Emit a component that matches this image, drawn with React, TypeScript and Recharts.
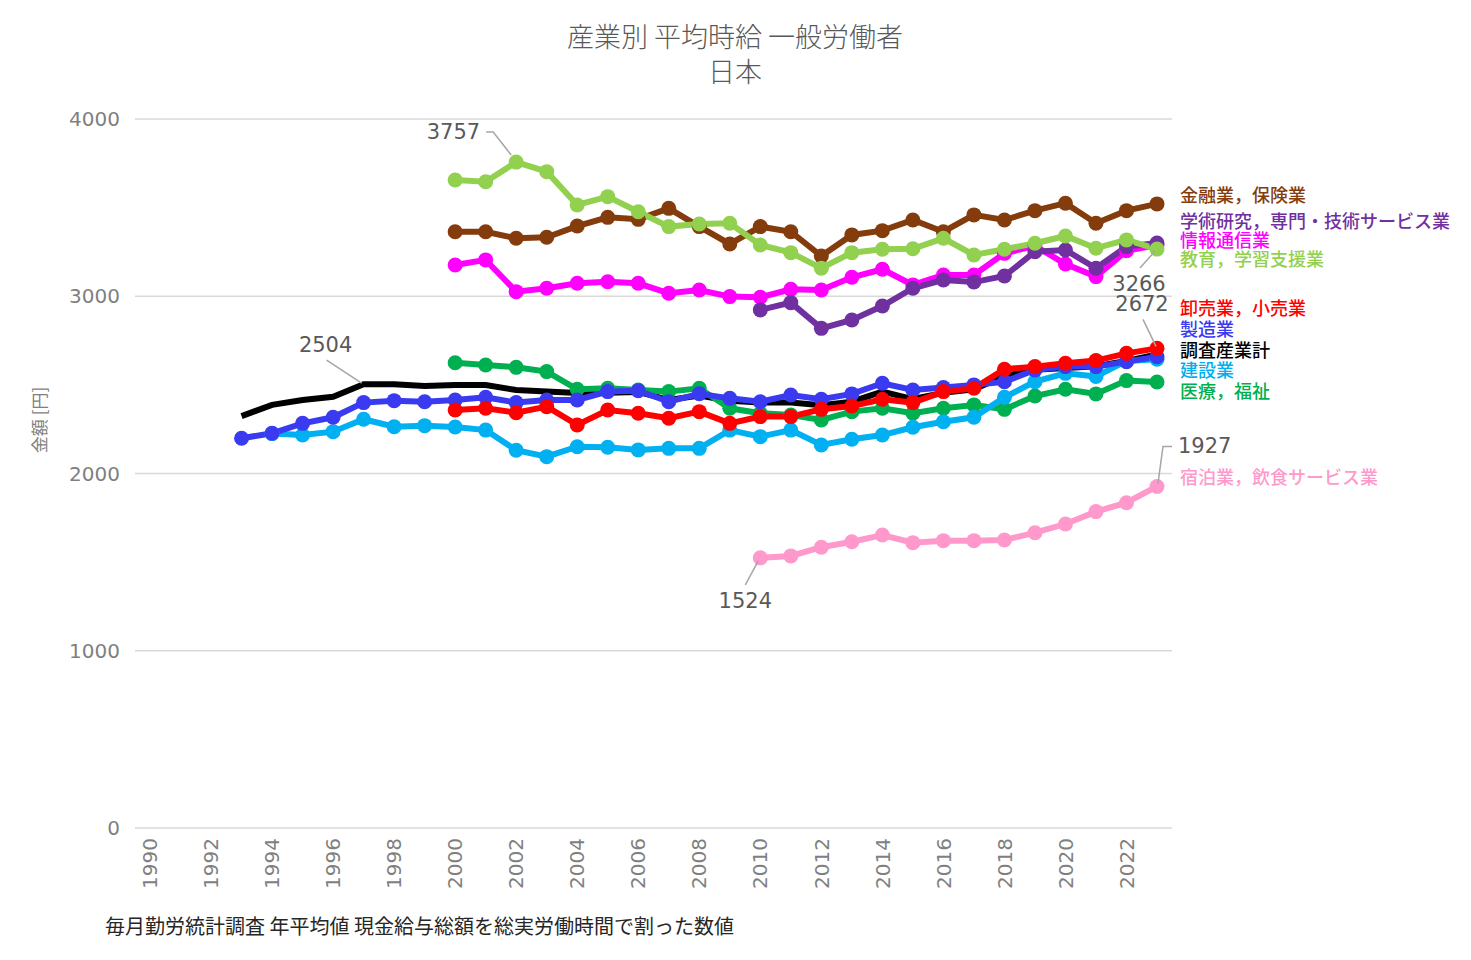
import { CartesianGrid, Line, LineChart, XAxis, YAxis } from 'recharts';

const years = [
  1990, 1991, 1992, 1993, 1994, 1995, 1996, 1997, 1998, 1999,
  2000, 2001, 2002, 2003, 2004, 2005, 2006, 2007, 2008, 2009,
  2010, 2011, 2012, 2013, 2014, 2015, 2016, 2017, 2018, 2019,
  2020, 2021, 2022, 2023,
];

// 調査産業計
const total = [
  null, null, null, 2324, 2387, 2415, 2433, 2504, 2504, 2494,
  2499, 2499, 2471, 2462, 2454, 2455, 2460, 2415, 2440, 2410,
  2400, 2400, 2385, 2405, 2462, 2420, 2455, 2475, 2550, 2585,
  2595, 2605, 2635, 2672,
];
// 製造業
const manufacturing = [
  null, null, null, 2199, 2227, 2283, 2317, 2400, 2411, 2405,
  2415, 2430, 2400, 2415, 2415, 2462, 2467, 2405, 2450, 2424,
  2405, 2443, 2419, 2449, 2509, 2471, 2485, 2500, 2518, 2584,
  2603, 2603, 2631, 2659,
];
// 建設業
const construction = [
  null, null, null, null, 2225, 2217, 2236, 2306, 2264, 2270,
  2262, 2245, 2131, 2095, 2151, 2148, 2133, 2142, 2142, 2245,
  2208, 2245, 2161, 2193, 2217, 2261, 2292, 2317, 2430, 2518,
  2565, 2547, 2635, 2645,
];
// 卸売業，小売業
const wholesale = [
  null, null, null, null, null, null, null, null, null, null,
  2358, 2368, 2343, 2377, 2274, 2358, 2340, 2312, 2349, 2283,
  2321, 2321, 2362, 2381, 2419, 2400, 2462, 2481, 2588, 2603,
  2622, 2637, 2678, 2706,
];
// 医療，福祉
const medical = [
  null, null, null, null, null, null, null, null, null, null,
  2625, 2612, 2599, 2575, 2475, 2481, 2471, 2462, 2481, 2368,
  2340, 2330, 2302, 2349, 2368, 2340, 2368, 2387, 2362, 2437,
  2475, 2449, 2524, 2516,
];
// 金融業，保険業
const finance = [
  null, null, null, null, null, null, null, null, null, null,
  3364, 3364, 3327, 3333, 3396, 3445, 3434, 3496, 3393, 3295,
  3393, 3364, 3227, 3346, 3370, 3430, 3364, 3459, 3430, 3483,
  3525, 3412, 3483, 3521,
];
// 教育，学習支援業
const education = [
  null, null, null, null, null, null, null, null, null, null,
  3656, 3646, 3757, 3703, 3515, 3562, 3477, 3393, 3408, 3412,
  3289, 3246, 3158, 3246, 3265, 3268, 3327, 3233, 3265, 3299,
  3340, 3271, 3318, 3266,
];
// 情報通信業
const info = [
  null, null, null, null, null, null, null, null, null, null,
  3176, 3205, 3026, 3045, 3073, 3082, 3073, 3017, 3035, 2998,
  2994, 3039, 3035, 3107, 3152, 3064, 3120, 3120, 3242, 3284,
  3182, 3111, 3257, 3289,
];
// 学術研究，専門・技術サービス業
const academic = [
  null, null, null, null, null, null, null, null, null, null,
  null, null, null, null, null, null, null, null, null, null,
  2923, 2964, 2819, 2866, 2945, 3045, 3092, 3080, 3114, 3251,
  3261, 3158, 3280, 3300,
];
// 宿泊業，飲食サービス業
const hospitality = [
  null, null, null, null, null, null, null, null, null, null,
  null, null, null, null, null, null, null, null, null, null,
  1524, 1535, 1584, 1615, 1653, 1610, 1621, 1621, 1625, 1666,
  1715, 1785, 1835, 1927,
];

const yTicks = [0, 1000, 2000, 3000, 4000];

const seriesNames = [
  '金融業，保険業',
  '学術研究，専門・技術サービス業',
  '情報通信業',
  '教育，学習支援業',
  '卸売業，小売業',
  '製造業',
  '調査産業計',
  '建設業',
  '医療，福祉',
  '宿泊業，飲食サービス業',
];
const seriesColors = [
  '#843c0c', '#7030a0', '#ff00ff', '#92d050', '#ff0000',
  '#3a3af0', '#000000', '#00b0f0', '#00b050', '#ff99cc',
];
const nameY = [194, 220, 239, 258, 307, 328, 349, 369, 390, 476];

const rows = years.map((year, i) => ({
  year: String(year),
  total: total[i],
  manufacturing: manufacturing[i],
  construction: construction[i],
  wholesale: wholesale[i],
  medical: medical[i],
  finance: finance[i],
  education: education[i],
  info: info[i],
  academic: academic[i],
  hospitality: hospitality[i],
}));

const jpFont = '"Noto Sans CJK JP", "Noto Sans", sans-serif';
const numFont = '"DejaVu Sans", sans-serif';

// callout: leader line + number, drawn only at one index of a series
function note(at: number, text: string, path: number[][], tx: number, ty: number, anchor: string) {
  return (p: any) => {
    if (p.index !== at || p.x == null || p.y == null) return null;
    const pts = path.map(([dx, dy]) => `${p.x + dx},${p.y + dy}`).join(' ');
    return (
      <g>
        <polyline points={pts} fill="none" stroke="#a6a6a6" strokeWidth={1.5} />
        <text x={p.x + tx} y={p.y + ty} textAnchor={anchor} dominantBaseline="central"
          fill="#595959" fontSize={21} fontFamily={numFont}>{text}</text>
      </g>
    );
  };
}

function YearTick(props: any) {
  const { x, y, payload } = props;
  return (
    <text x={x} y={y} transform={`rotate(-90, ${x}, ${y})`} textAnchor="end" dy="0.36em"
      fill="#7f7f7f" fontSize={20} fontFamily={numFont}>{payload.value}</text>
  );
}

const lineProps = (color: string) => ({
  type: 'linear' as const,
  stroke: color,
  strokeWidth: 6,
  dot: { r: 7.5, fill: color, stroke: color, strokeWidth: 0 },
  activeDot: false as const,
  isAnimationActive: false,
  connectNulls: false,
});

export default function App() {
  return (
    <div style={{ position: 'absolute', left: 0, top: 0, width: 1471, height: 960, background: '#fff' }}>
      <LineChart width={1471} height={960} data={rows} margin={{ top: 119, right: 299, bottom: 62, left: 65 }}>
        <CartesianGrid vertical={false} stroke="#d9d9d9" strokeWidth={1.5} />
        <XAxis dataKey="year" interval={1} axisLine={false} tickLine={false} tickMargin={4} height={70}
          padding={{ left: 15, right: 15 }} tick={<YearTick />} />
        <YAxis domain={[0, 4000]} ticks={yTicks} axisLine={false} tickLine={false} tickMargin={9} width={70}
          tick={{ fill: '#7f7f7f', fontSize: 20, fontFamily: numFont }} />
        <Line dataKey="hospitality" {...lineProps(seriesColors[9])}
          label={(p: any) => (p.index === 20
            ? note(20, '1524', [[-15, 27], [-2, 3]], -15, 43, 'middle')(p)
            : note(33, '1927', [[1, -3], [6, -40], [15, -40]], 21, -40, 'start')(p))} />
        <Line dataKey="total" {...lineProps('#000000')} dot={false}
          label={(p: any) => (p.index === 7
            ? note(7, '2504', [[-37, -24], [-2, -1]], -38, -39, 'middle')(p)
            : note(33, '2672', [[-14, -35], [-1, -8]], -15, -50, 'middle')(p))} />
        <Line dataKey="medical" {...lineProps(seriesColors[8])} />
        <Line dataKey="construction" {...lineProps(seriesColors[7])} />
        <Line dataKey="manufacturing" {...lineProps(seriesColors[5])} />
        <Line dataKey="wholesale" {...lineProps(seriesColors[4])} />
        <Line dataKey="finance" {...lineProps(seriesColors[0])} />
        <Line dataKey="info" {...lineProps(seriesColors[2])} />
        <Line dataKey="academic" {...lineProps(seriesColors[1])} />
        <Line dataKey="education" {...lineProps(seriesColors[3])}
          label={(p: any) => (p.index === 12
            ? note(12, '3757', [[-30, -30], [-23, -30], [-5, -7]], -36, -30, 'end')(p)
            : note(33, '3266', [[-17, 19], [-2, 2]], -18, 35, 'middle')(p))} />
      </LineChart>
      <svg width={1471} height={960} style={{ position: 'absolute', left: 0, top: 0, pointerEvents: 'none' }}>
        <text x={735} y={35} textAnchor="middle" dominantBaseline="central" fill="#595959" fontSize={27}
          fontWeight={300} fontFamily={jpFont}>
          産業別 平均時給 一般労働者
        </text>
        <text x={735} y={70} textAnchor="middle" dominantBaseline="central" fill="#595959" fontSize={27}
          fontWeight={300} fontFamily={jpFont}>
          日本
        </text>
        <text x={38} y={420} transform="rotate(-90, 38, 420)" textAnchor="middle" dominantBaseline="central"
          fill="#7f7f7f" fontSize={17} fontFamily={jpFont}>
          金額 [円]
        </text>
        {seriesNames.map((name, i) => (
          <text key={name} x={1180} y={nameY[i]} dominantBaseline="central" fill={seriesColors[i]}
            fontSize={18} fontWeight={500} fontFamily={jpFont}>
            {name}
          </text>
        ))}
        <text x={105} y={925} dominantBaseline="central" fill="#262626" fontSize={20} fontFamily={jpFont}>
          毎月勤労統計調査 年平均値 現金給与総額を総実労働時間で割った数値
        </text>
      </svg>
    </div>
  );
}
